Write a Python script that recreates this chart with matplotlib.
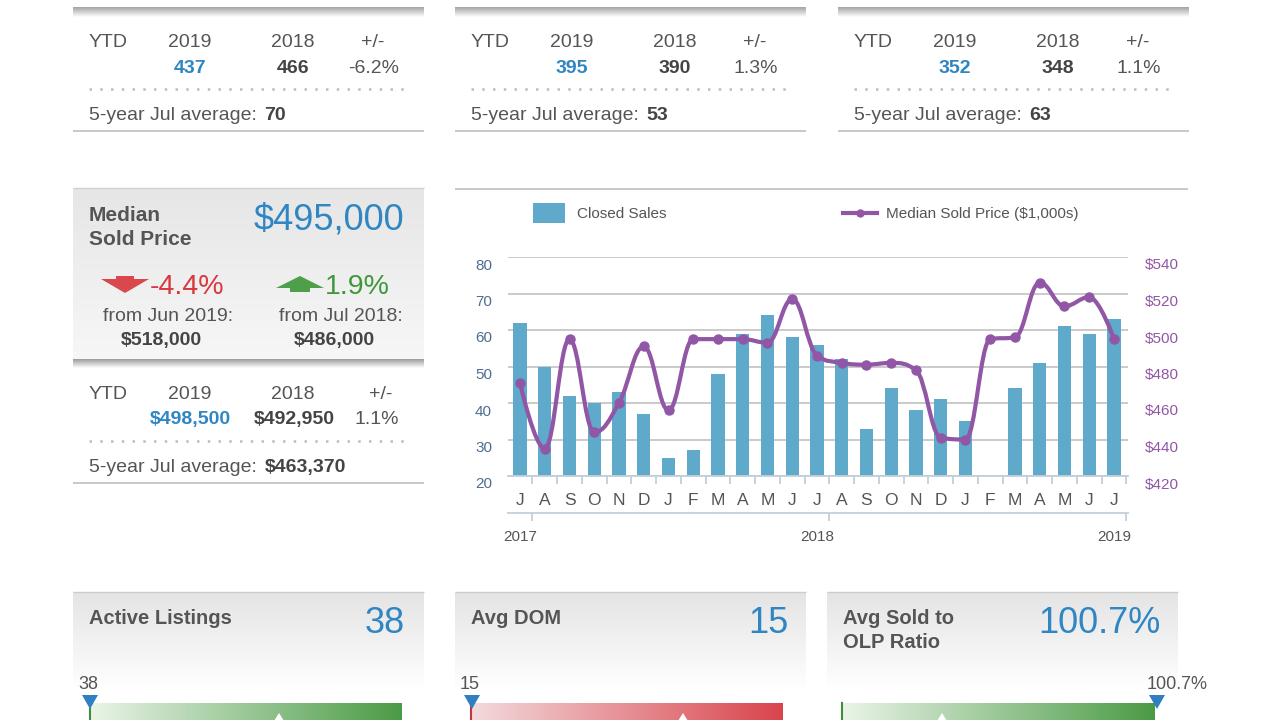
import matplotlib
matplotlib.use('Agg')
import matplotlib.pyplot as plt
import numpy as np
import matplotlib.colors as mcolors
from matplotlib.path import Path
from matplotlib.patches import PathPatch, Polygon
from matplotlib.lines import Line2D
from matplotlib.transforms import ScaledTranslation

plt.rcParams['font.family'] = ['Liberation Sans', 'DejaVu Sans']

# ---------------- data ----------------
months = ['J', 'A', 'S', 'O', 'N', 'D', 'J', 'F', 'M', 'A', 'M', 'J',
          'J', 'A', 'S', 'O', 'N', 'D', 'J', 'F', 'M', 'A', 'M', 'J', 'J']
year_labels = ['2017', '2018', '2019']
year_label_pos = [0, 12, 24]
year_tick_pos = [0.5, 12.5, 24.5]
closed_sales = [62, 50, 42, 40, 43, 37, 25, 27, 48, 59, 64, 58, 56,
                52, 33, 44, 38, 41, 35, 0, 44, 51, 61, 59, 63]
median_price = [471, 435, 495, 444, 460, 491, 456, 495, 495, 495, 493, 517, 486,
                482, 481, 482, 478, 441, 440, 495, 496, 526, 513, 518, 495]
sales_ticks = [20, 30, 40, 50, 60, 70, 80]
price_ticks = [420, 440, 460, 480, 500, 520, 540]

top_ytd_2019 = ['437', '395', '352']
top_ytd_2018 = ['466', '390', '348']
top_ytd_change = ['-6.2%', '1.3%', '1.1%']
top_jul_avg = ['70', '53', '63']

median_value = '$495,000'
mom_change = '-4.4%'
yoy_change = '1.9%'
prev_month_label = 'from Jun 2019:'
prev_month_value = '$518,000'
prev_year_label = 'from Jul 2018:'
prev_year_value = '$486,000'
median_ytd = ['$498,500', '$492,950', '1.1%']
median_jul_avg = '$463,370'

bottom_titles = ['Active Listings', 'Avg DOM', 'Avg Sold to\nOLP Ratio']
bottom_values = ['38', '15', '100.7%']

# ---------------- style ----------------
W, H = 1280, 720
GRAY = '#555555'
DARK = '#444444'
BLUE = '#2F86C3'
BAR = '#5FA9CB'
PURPLE = '#9157A6'
AXBLUE = '#C3CFDA'
DY = 2.5

fig = plt.figure(figsize=(W / 100, H / 100), dpi=100)
fig.patch.set_facecolor('white')
bg = fig.add_axes([0, 0, 1, 1], zorder=0)
bg.axis('off')


def txt(x, y, s, **kw):
    kw.setdefault('va', 'center')
    return bg.text(x, y + DY, s, **kw)


def grad(x0, x1, y0, y1, c0, c1, vertical=True):
    c0 = np.array(mcolors.to_rgb(c0))
    c1 = np.array(mcolors.to_rgb(c1))
    t = np.linspace(0, 1, 256)
    arr = c0[None, :] * (1 - t[:, None]) + c1[None, :] * t[:, None]
    img = arr[:, None, :] if vertical else arr[None, :, :]
    bg.imshow(img, extent=(x0, x1, y1, y0), origin='upper', aspect='auto',
              interpolation='bilinear', zorder=0)


def hline(x0, x1, y, color='#C8C8C8', lw=1.2, **kw):
    bg.plot([x0, x1], [y, y], color=color, lw=lw, solid_capstyle='butt', **kw)


def dotted(x0, x1, y):
    bg.plot([x0, x1], [y, y], color='#BDBDBD', lw=1.8, linestyle=(0, (1, 3.3)))


def avg_line(x, y, label_val, fs=14):
    t = txt(x, y, '5-year Jul average:', fontsize=fs, color=GRAY, ha='left')
    bg.annotate(label_val, xy=(1, 0.5), xycoords=t, xytext=(5.5, 0),
                textcoords='offset points', ha='left', va='center',
                fontsize=fs, color=DARK, fontweight='bold')


# ---------------- top row panels ----------------
top_x0 = [73, 455, 838]
for i, x0 in enumerate(top_x0):
    x1 = x0 + 351
    grad(x0, x1, 7, 17, '#A3A3A3', '#FFFFFF')
    txt(x0 + 16, 40, 'YTD', fontsize=14, color=GRAY, ha='left')
    txt(x0 + 117, 40, '2019', fontsize=14, color=GRAY, ha='center')
    txt(x0 + 220, 40, '2018', fontsize=14, color=GRAY, ha='center')
    txt(x0 + 300, 40, '+/-', fontsize=14, color=GRAY, ha='center')
    txt(x0 + 117, 66, top_ytd_2019[i], fontsize=14, color=BLUE,
        fontweight='bold', ha='center')
    txt(x0 + 220, 66, top_ytd_2018[i], fontsize=14, color=DARK,
        fontweight='bold', ha='center')
    txt(x0 + 301, 66, top_ytd_change[i], fontsize=14, color=GRAY, ha='center')
    dotted(x0 + 16, x0 + 334, 89)
    avg_line(x0 + 16, 113, top_jul_avg[i])
    hline(x0, x1, 131, color='#C8C8C8', lw=1.4)

# ---------------- median sold price panel ----------------
mx0, mx1 = 73, 424
grad(mx0, mx1, 188, 360, '#E6E6E6', '#F7F7F7')
hline(mx0, mx1, 188, color='#D0D0D0', lw=1.0)
grad(mx0, mx1, 359, 368, '#9A9A9A', '#FFFFFF')
txt(89, 213, 'Median', fontsize=15, color=GRAY, fontweight='bold', ha='left')
txt(89, 237, 'Sold Price', fontsize=15, color=GRAY, fontweight='bold', ha='left')
txt(329, 218, median_value, fontsize=26, color=BLUE, ha='center')

# arrows
bg.add_patch(Polygon([(116, 276), (134, 276), (134, 279), (149, 279), (125, 293),
                      (101, 279), (116, 279)], closed=True,
                     facecolor='#D9484C', edgecolor='none', zorder=2))
bg.add_patch(Polygon([(300, 276), (324, 288), (310, 288), (310, 292), (290, 292),
                      (290, 288), (276, 288)], closed=True,
                     facecolor='#4E9F4A', edgecolor='none', zorder=2))
txt(150, 284, mom_change, fontsize=20.5, color='#D8383F', ha='left')
txt(325, 284, yoy_change, fontsize=20.5, color='#3F973C', ha='left')
txt(168, 314, prev_month_label, fontsize=14, color=GRAY, ha='center')
txt(161, 338, prev_month_value, fontsize=14, color=DARK, fontweight='bold',
    ha='center')
txt(341, 314, prev_year_label, fontsize=14, color=GRAY, ha='center')
txt(334, 338, prev_year_value, fontsize=14, color=DARK, fontweight='bold',
    ha='center')

txt(89, 392, 'YTD', fontsize=14, color=GRAY, ha='left')
txt(190, 392, '2019', fontsize=14, color=GRAY, ha='center')
txt(293, 392, '2018', fontsize=14, color=GRAY, ha='center')
txt(381, 392, '+/-', fontsize=14, color=GRAY, ha='center')
txt(190, 417, median_ytd[0], fontsize=14, color=BLUE, fontweight='bold',
    ha='center')
txt(294, 417, median_ytd[1], fontsize=14, color=DARK, fontweight='bold',
    ha='center')
txt(377, 417, median_ytd[2], fontsize=14, color=GRAY, ha='center')
dotted(89, 407, 441)
avg_line(89, 465, median_jul_avg)
hline(mx0, mx1, 483, color='#C8C8C8', lw=1.4)

# chart panel top line
hline(455, 1188, 189, color='#C8C8C8', lw=1.4)

# ---------------- bottom panels ----------------
bot_x0 = [73, 455, 827]
bar_x = [(90, 402), (471, 783), (842, 1155)]
bar_cols = [('#EAF4E8', '#4B9B46'), ('#F3DADC', '#D9444C'), ('#EAF4E8', '#4B9B46')]
edge_cols = ['#3F8E3B', '#C9343C', '#3F8E3B']
marker_x = [90, 472, 1157]
small_lbl_x = [88, 470, 1177]
big_x = [385, 768, 1099]
white_tri_x = [279, 683, 942]
for i, x0 in enumerate(bot_x0):
    x1 = x0 + 351
    grad(x0, x1, 592, 690, '#E4E4E4', '#FFFFFF')
    hline(x0, x1, 592, color='#CCCCCC', lw=1.0)
    title = bottom_titles[i]
    if '\n' in title:
        a, b = title.split('\n')
        txt(x0 + 16, 616, a, fontsize=14.5, color=GRAY, fontweight='bold', ha='left')
        txt(x0 + 16, 640, b, fontsize=14.5, color=GRAY, fontweight='bold', ha='left')
    else:
        txt(x0 + 16, 616, title, fontsize=14.5, color=GRAY, fontweight='bold',
            ha='left')
    txt(big_x[i], 621, bottom_values[i], fontsize=26, color=BLUE, ha='center')
    bx0, bx1 = bar_x[i]
    grad(bx0, bx1, 703, 722, bar_cols[i][0], bar_cols[i][1], vertical=False)
    bg.plot([bx0, bx0], [703, 722], color=edge_cols[i], lw=1.5)
    tx = white_tri_x[i]
    bg.add_patch(Polygon([(tx, 713), (tx - 5, 721), (tx + 5, 721)], closed=True,
                         facecolor='white', edgecolor='none', zorder=3))
    mx = marker_x[i]
    bg.add_patch(Polygon([(mx - 8, 695), (mx + 8, 695), (mx, 709)], closed=True,
                         facecolor='#2F7FC1', edgecolor='none', zorder=4))
    txt(small_lbl_x[i], 682, bottom_values[i], fontsize=13, color=GRAY, ha='center')

bg.set_xlim(0, W)
bg.set_ylim(H, 0)

# ---------------- chart ----------------
L, R, T, B = 508, 1128, 257, 476
ax = fig.add_axes([L / W, (H - B) / H, (R - L) / W, (B - T) / H], zorder=2)
ax.patch.set_alpha(0)
x = np.arange(len(months))
bars = ax.bar(x, closed_sales, width=0.54, color=BAR, zorder=2,
              label='Closed Sales')
ax.set_xlim(-0.485, 24.566)
ax.set_ylim(sales_ticks[0], sales_ticks[-1])
ax.set_yticks(sales_ticks)
ax.set_yticklabels([str(v) for v in sales_ticks])
ax.yaxis.grid(True, color='#C6C6C6', lw=1.3)
ax.set_axisbelow(True)
for s in ['top', 'left', 'right']:
    ax.spines[s].set_visible(False)
ax.spines['bottom'].set_color(AXBLUE)
ax.spines['bottom'].set_linewidth(1.3)
ax.tick_params(axis='y', length=0, pad=11.5, labelsize=11, labelcolor='#4F6D92')
ax.set_xticks(x)
ax.set_xticklabels(months)
ax.tick_params(axis='x', which='major', length=0, pad=12, labelsize=12.5,
               labelcolor=GRAY)
ax.set_xticks(np.arange(0.5, 25, 1), minor=True)
ax.tick_params(axis='x', which='minor', length=6, width=1.3, color=AXBLUE,
               direction='out')
off = ScaledTranslation(0, -0.07, fig.dpi_scale_trans)
for lab in ax.get_yticklabels():
    lab.set_transform(lab.get_transform() + off)

ax2 = ax.twinx()
ax2.patch.set_alpha(0)
ax2.set_ylim(price_ticks[0], price_ticks[-1])
ax2.set_yticks(price_ticks)
ax2.set_yticklabels(['$%d' % v for v in price_ticks])
ax2.tick_params(axis='y', length=0, pad=12, labelsize=11, labelcolor=PURPLE)
for s in ax2.spines.values():
    s.set_visible(False)
for lab in ax2.get_yticklabels():
    lab.set_transform(lab.get_transform() + off)


def spline_path(xs, ys, smoothing=1.5):
    n = len(xs)
    lc = [None] * n
    rc = [None] * n
    d = smoothing + 1
    for i in range(n):
        px, py = xs[i], ys[i]
        if i == 0 or i == n - 1:
            lc[i] = (px, py)
            rc[i] = (px, py)
            continue
        lx, ly = xs[i - 1], ys[i - 1]
        nx, ny = xs[i + 1], ys[i + 1]
        lcx = (smoothing * px + lx) / d
        lcy = (smoothing * py + ly) / d
        rcx = (smoothing * px + nx) / d
        rcy = (smoothing * py + ny) / d
        corr = ((rcy - lcy) * (rcx - px)) / (rcx - lcx) + py - rcy
        lcy += corr
        rcy += corr
        if lcy > ly and lcy > py:
            lcy = max(ly, py)
            rcy = 2 * py - lcy
        elif lcy < ly and lcy < py:
            lcy = min(ly, py)
            rcy = 2 * py - lcy
        if rcy > ny and rcy > py:
            rcy = max(ny, py)
            lcy = 2 * py - rcy
        elif rcy < ny and rcy < py:
            rcy = min(ny, py)
            lcy = 2 * py - rcy
        lc[i] = (lcx, lcy)
        rc[i] = (rcx, rcy)
    verts = [(xs[0], ys[0])]
    codes = [Path.MOVETO]
    for i in range(1, n):
        verts += [rc[i - 1], lc[i], (xs[i], ys[i])]
        codes += [Path.CURVE4] * 3
    return Path(verts, codes)


ax2.add_patch(PathPatch(spline_path(list(x.astype(float)), median_price),
                        facecolor='none', edgecolor=PURPLE, lw=3.0,
                        capstyle='round', joinstyle='round', zorder=3))
ax2.plot(x, median_price, linestyle='none', marker='o', ms=6.5, color=PURPLE,
         zorder=4)

sec = ax.secondary_xaxis(-37 / 219)
sec.spines['bottom'].set_color(AXBLUE)
sec.spines['bottom'].set_linewidth(1.3)
sec.set_xticks(year_tick_pos)
sec.set_xticklabels(['', '', ''])
sec.tick_params(axis='x', which='major', length=6, width=1.3, color=AXBLUE,
                direction='out')
sec.set_xticks(year_label_pos, minor=True)
sec.set_xticklabels(year_labels, minor=True)
sec.tick_params(axis='x', which='minor', length=0, pad=12, labelsize=11,
                labelcolor=GRAY)

# legends
line_handle = Line2D([], [], color=PURPLE, lw=3, marker='o', ms=5,
                     label='Median Sold Price ($1,000s)')
fig.legend(handles=[bars], loc='center left',
           bbox_to_anchor=(533 / W, 1 - 213 / H), frameon=False, fontsize=11,
           handlelength=2.1, handleheight=1.6, handletextpad=0.8,
           borderpad=0, borderaxespad=0, labelcolor=GRAY)
fig.legend(handles=[line_handle], loc='center left',
           bbox_to_anchor=(843 / W, 1 - 214 / H), frameon=False, fontsize=11,
           handlelength=2.2, handletextpad=0.6, borderpad=0, borderaxespad=0,
           labelcolor=GRAY)

fig.savefig('out.png', dpi=100, facecolor='white')
